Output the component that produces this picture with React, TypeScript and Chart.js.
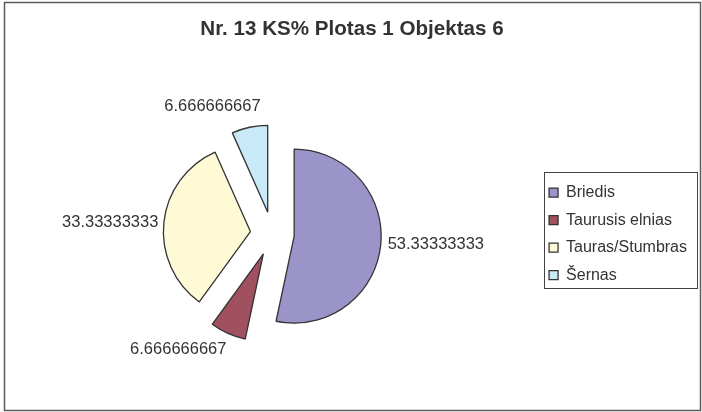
import { useEffect, useRef } from 'react';
import { Chart, registerables } from 'chart.js';

Chart.register(...registerables);

const TITLE = 'Nr. 13 KS% Plotas 1 Objektas 6';
const categories = ['Briedis', 'Taurusis elnias', 'Tauras/Stumbras', 'Šernas'];
const values = [53.33333333, 6.666666667, 33.33333333, 6.666666667];
const valueLabels = ['53.33333333', '6.666666667', '33.33333333', '6.666666667'];
const colors = ['#9a94c8', '#a1505f', '#fffad6', '#c9e8f8'];

const FONT = "'Liberation Sans', Arial, Helvetica, sans-serif";
const LEGEND_PAD = 11.5;
const LEGEND_FONT = 16;

const framePlugin = {
  id: 'frame',
  beforeDraw(chart: any) {
    const ctx = chart.ctx;
    ctx.save();
    ctx.fillStyle = '#ffffff';
    ctx.fillRect(0, 0, chart.width, chart.height);
    ctx.strokeStyle = '#5a5a5a';
    ctx.lineWidth = 1.5;
    ctx.strokeRect(4.5, 2.5, 696, 408);
    ctx.restore();
  },
  afterDraw(chart: any) {
    const lg = chart.legend;
    if (!lg) return;
    const ctx = chart.ctx;
    const n = categories.length;
    const step = LEGEND_FONT + LEGEND_PAD;
    const y0 = (lg.top + LEGEND_PAD + lg.bottom - n * step) / 2;
    const first = y0 + LEGEND_FONT / 2;
    const last = first + (n - 1) * step;
    const left = Math.round(lg.left + LEGEND_PAD - 5) + 0.5;
    const right = Math.round(lg.right) + 0.5;
    const top = Math.round(first - 20.5) + 0.5;
    const bottom = Math.round(last + 12.5) + 0.5;
    ctx.save();
    ctx.strokeStyle = '#444444';
    ctx.lineWidth = 1;
    ctx.strokeRect(left, top, right - left, bottom - top);
    ctx.restore();
  },
};

const explodePlugin = {
  id: 'explode',
  afterDatasetsUpdate(chart: any, _args: any, opts: any) {
    const meta = chart.getDatasetMeta(0);
    const d = opts.distance || 0;
    meta.data.forEach((arc: any) => {
      const mid = (arc.startAngle + arc.endAngle) / 2;
      arc.x += Math.cos(mid) * d;
      arc.y += Math.sin(mid) * d;
    });
  },
};

const sliceLabelPlugin = {
  id: 'sliceLabels',
  afterDatasetsDraw(chart: any, _args: any, opts: any) {
    const ctx = chart.ctx;
    const meta = chart.getDatasetMeta(0);
    ctx.save();
    ctx.font = `${opts.size}px ${FONT}`;
    ctx.fillStyle = opts.color;
    ctx.textBaseline = 'middle';
    meta.data.forEach((arc: any, i: number) => {
      const mid = (arc.startAngle + arc.endAngle) / 2;
      const r = arc.outerRadius;
      const px = arc.x + Math.cos(mid) * r;
      const py = arc.y + Math.sin(mid) * r;
      const pl = opts.placement[i];
      ctx.textAlign = pl.align;
      ctx.fillText(valueLabels[i], px + pl.dx, py + pl.dy);
    });
    ctx.restore();
  },
};

export default function App() {
  const ref = useRef<HTMLCanvasElement | null>(null);

  useEffect(() => {
    document.body.style.margin = '0';
    const canvas = ref.current;
    if (!canvas) return;
    const chart = new Chart(canvas, {
      type: 'pie',
      data: {
        labels: categories,
        datasets: [
          {
            data: values,
            backgroundColor: colors,
            borderColor: '#333333',
            borderWidth: 1.3,
            radius: 87,
          } as any,
        ],
      },
      options: {
        responsive: false,
        animation: false,
        devicePixelRatio: 1,
        radius: 87,
        layout: { padding: { left: 7, right: 5, top: 0, bottom: 10 } },
        plugins: {
          title: {
            display: true,
            text: TITLE,
            color: '#333333',
            font: { family: FONT, size: 20.6, weight: 'bold' },
            padding: { top: 16.5, bottom: 24.5 },
          },
          legend: {
            position: 'right',
            fullSize: false,
            labels: {
              font: { family: FONT, size: LEGEND_FONT },
              color: '#333333',
              boxWidth: 9,
              boxHeight: 9,
              padding: LEGEND_PAD,
            },
          },
          tooltip: { enabled: false },
          explode: { distance: 22 },
          sliceLabels: {
            size: 16.5,
            color: '#333333',
            placement: [
              { align: 'left', dx: 7, dy: -1 },
              { align: 'right', dx: -1.5, dy: 16 },
              { align: 'right', dx: -5.5, dy: 0 },
              { align: 'right', dx: 11, dy: -21 },
            ],
          },
        } as any,
      } as any,
      plugins: [framePlugin, explodePlugin, sliceLabelPlugin],
    });
    return () => chart.destroy();
  }, []);

  return (
    <div style={{ position: 'absolute', left: 0, top: 0, width: 702, height: 412 }}>
      <canvas ref={ref} width={702} height={412} style={{ display: 'block' }} />
    </div>
  );
}
